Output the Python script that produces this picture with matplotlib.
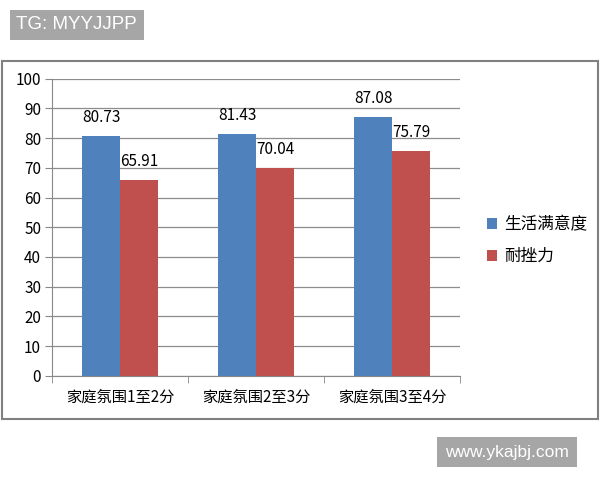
import matplotlib
matplotlib.use("Agg")
import matplotlib.pyplot as plt
from matplotlib.patches import Rectangle
import numpy as np

plt.rcParams['font.family'] = ['Noto Sans CJK SC', 'DejaVu Sans']

categories = ['家庭氛围1至2分', '家庭氛围2至3分', '家庭氛围3至4分']
series_names = ['生活满意度', '耐挫力']
satisfaction = [80.73, 81.43, 87.08]
resilience = [65.91, 70.04, 75.79]
colors = ['#4F81BD', '#C0504D']

fig = plt.figure(figsize=(6, 4.8), dpi=100)
ax = fig.add_axes([0.087, 0.217, 0.680, 0.619])

x = np.arange(len(categories))
w = 0.28
b1 = ax.bar(x - w / 2, satisfaction, w, color=colors[0], label=series_names[0])
b2 = ax.bar(x + w / 2, resilience, w, color=colors[1], label=series_names[1])

for bars, vals in ((b1, satisfaction), (b2, resilience)):
    for rect, v in zip(bars, vals):
        ax.annotate(f'{v:.2f}', (rect.get_x() + rect.get_width() / 2, v),
                    xytext=(0, 7), textcoords='offset points',
                    ha='center', va='bottom', fontsize=11)

ax.set_ylim(0, 100)
ax.set_yticks(range(0, 101, 10))
ax.set_xlim(-0.5, 2.5)
ax.set_xticks(x)
ax.set_xticklabels(categories, fontsize=11)
ax.tick_params(axis='x', length=0, pad=9)
ax.tick_params(axis='y', labelsize=11, length=5, color='#888888', pad=3)
ax.set_xticks([-0.5, 0.5, 1.5, 2.5], minor=True)
ax.tick_params(axis='x', which='minor', length=5, color='#888888')
ax.yaxis.grid(True, color='#8c8c8c', linewidth=0.9)
ax.set_axisbelow(True)
for s in ['top', 'right']:
    ax.spines[s].set_visible(False)
for s in ['left', 'bottom']:
    ax.spines[s].set_color('#888888')

ax.legend(loc='center left', bbox_to_anchor=(1.03, 0.455), frameon=False,
          fontsize=12, handlelength=0.6, handleheight=0.6,
          handletextpad=0.4, labelspacing=0.9)

# chart area border
fig.patches.append(Rectangle((0.004, 0.127), 0.992, 0.746, transform=fig.transFigure,
                             fill=False, edgecolor='#808080', linewidth=1.5))

# watermarks
fig.text(0.027, 0.948, 'TG: MYYJJPP', color='white', fontsize=13.5, family='Liberation Sans',
         va='center', ha='left',
         bbox=dict(boxstyle='square,pad=0.35', facecolor='#a6a6a6', edgecolor='none'))
fig.text(0.742, 0.058, 'www.ykajbj.com', color='white', fontsize=12.5, family='Liberation Sans',
         va='center', ha='left',
         bbox=dict(boxstyle='square,pad=0.45', facecolor='#a6a6a6', edgecolor='none'))

fig.savefig('out.png', dpi=100)
